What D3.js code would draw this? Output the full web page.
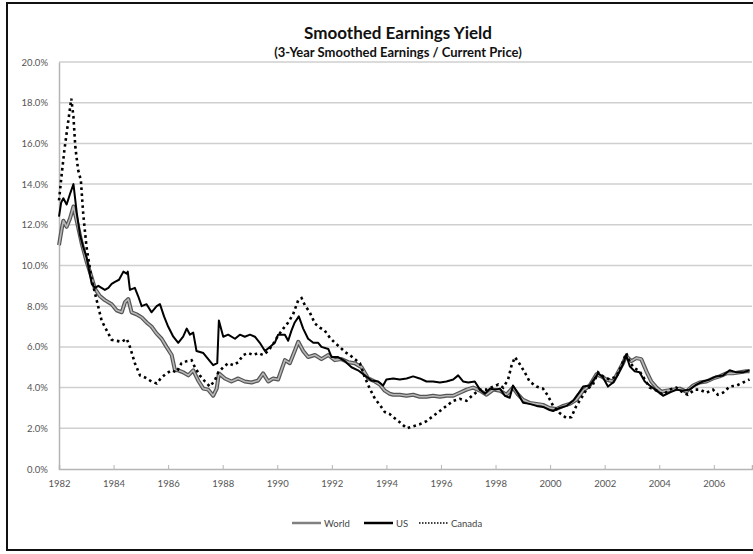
<!DOCTYPE html>
<html>
<head>
<meta charset="utf-8">
<script src="https://cdn.jsdelivr.net/npm/d3@7"></script>
<style>
  body { margin: 0; background: #fff; }
  svg { display: block; font-family: Lato, "Liberation Sans", sans-serif; }
</style>
</head>
<body>
<div id="chart"></div>
<script>
// Data: [year, yield in %]
const worldData = [
  [1982.00, 11.0], [1982.10, 11.8], [1982.16, 12.2], [1982.28, 11.9], [1982.40, 12.3], [1982.53, 12.9],
  [1982.65, 12.2], [1982.83, 11.1], [1983.01, 10.2], [1983.20, 9.4], [1983.32, 8.85], [1983.50, 8.5],
  [1983.68, 8.3], [1983.93, 8.1], [1984.11, 7.8], [1984.30, 7.7], [1984.42, 8.2], [1984.54, 8.35],
  [1984.66, 7.7], [1984.84, 7.6], [1985.03, 7.45], [1985.21, 7.2], [1985.39, 7.0], [1985.58, 6.65],
  [1985.76, 6.4], [1985.94, 6.0], [1986.13, 5.6], [1986.25, 4.85], [1986.37, 4.85], [1986.55, 4.75],
  [1986.74, 4.6], [1986.92, 4.85], [1987.10, 4.35], [1987.29, 3.95], [1987.47, 3.9], [1987.65, 3.6],
  [1987.78, 3.95], [1987.86, 4.7], [1988.08, 4.45], [1988.32, 4.3], [1988.57, 4.45], [1988.81, 4.3],
  [1989.06, 4.25], [1989.30, 4.35], [1989.48, 4.7], [1989.67, 4.3], [1989.85, 4.45], [1990.03, 4.4],
  [1990.28, 5.35], [1990.46, 5.2], [1990.64, 5.8], [1990.77, 6.25], [1990.95, 5.8], [1991.13, 5.5],
  [1991.38, 5.6], [1991.62, 5.4], [1991.87, 5.6], [1992.11, 5.35], [1992.35, 5.4], [1992.60, 5.25],
  [1992.84, 5.2], [1993.09, 5.0], [1993.33, 4.45], [1993.58, 4.3], [1993.76, 4.15], [1993.94, 3.85],
  [1994.12, 3.7], [1994.25, 3.65], [1994.49, 3.65], [1994.74, 3.6], [1994.98, 3.65], [1995.22, 3.55],
  [1995.47, 3.55], [1995.71, 3.6], [1995.96, 3.55], [1996.20, 3.6], [1996.45, 3.6], [1996.69, 3.75],
  [1996.94, 3.9], [1997.18, 4.0], [1997.43, 3.85], [1997.67, 3.65], [1997.92, 3.9], [1998.16, 3.85],
  [1998.40, 3.65], [1998.64, 4.0], [1998.83, 3.65], [1999.01, 3.4], [1999.25, 3.25], [1999.50, 3.2],
  [1999.74, 3.15], [1999.98, 3.0], [2000.23, 2.95], [2000.48, 3.1], [2000.72, 3.2], [2000.96, 3.4],
  [2001.21, 3.85], [2001.45, 4.1], [2001.70, 4.65], [2001.88, 4.55], [2002.06, 4.4], [2002.31, 4.3],
  [2002.49, 4.75], [2002.67, 5.2], [2002.79, 5.55], [2002.98, 5.3], [2003.16, 5.45], [2003.34, 5.4],
  [2003.53, 4.8], [2003.71, 4.3], [2003.90, 4.0], [2004.08, 3.8], [2004.26, 3.85], [2004.51, 3.9],
  [2004.75, 3.95], [2004.99, 3.8], [2005.24, 4.1], [2005.48, 4.25], [2005.73, 4.3], [2005.97, 4.45],
  [2006.21, 4.55], [2006.46, 4.7], [2006.70, 4.7], [2006.95, 4.75], [2007.19, 4.8], [2007.31, 4.8]
];

const usData = [
  [1982.00, 12.4], [1982.08, 13.1], [1982.16, 13.3], [1982.28, 13.0], [1982.40, 13.5], [1982.53, 14.0],
  [1982.65, 12.6], [1982.77, 11.5], [1982.89, 10.9], [1983.01, 10.4], [1983.20, 9.1], [1983.32, 8.9],
  [1983.44, 9.0], [1983.56, 8.9], [1983.68, 8.8], [1983.81, 8.9], [1983.93, 9.1], [1984.05, 9.2],
  [1984.20, 9.3], [1984.36, 9.7], [1984.48, 9.6], [1984.52, 9.7], [1984.60, 8.8], [1984.78, 8.9],
  [1984.90, 8.5], [1985.03, 8.0], [1985.21, 8.1], [1985.39, 7.7], [1985.58, 8.0], [1985.70, 8.1],
  [1985.85, 7.5], [1986.00, 7.0], [1986.19, 6.5], [1986.37, 6.2], [1986.55, 6.5], [1986.68, 6.9],
  [1986.80, 6.6], [1986.92, 6.7], [1987.04, 5.8], [1987.29, 5.7], [1987.47, 5.4], [1987.65, 5.1],
  [1987.80, 5.2], [1987.86, 7.3], [1988.02, 6.5], [1988.20, 6.6], [1988.45, 6.4], [1988.63, 6.6],
  [1988.81, 6.5], [1989.00, 6.6], [1989.18, 6.5], [1989.36, 6.2], [1989.55, 5.8], [1989.73, 6.0],
  [1989.91, 6.2], [1990.03, 6.6], [1990.28, 6.6], [1990.40, 6.3], [1990.52, 6.8], [1990.64, 7.2],
  [1990.79, 7.5], [1990.95, 6.9], [1991.13, 6.4], [1991.32, 6.2], [1991.50, 6.2], [1991.62, 6.0],
  [1991.87, 5.9], [1991.99, 5.5], [1992.23, 5.5], [1992.48, 5.3], [1992.72, 5.0], [1992.96, 4.85],
  [1993.21, 4.6], [1993.45, 4.35], [1993.70, 4.3], [1993.88, 4.1], [1994.00, 4.4], [1994.25, 4.45],
  [1994.49, 4.4], [1994.74, 4.45], [1994.98, 4.55], [1995.22, 4.45], [1995.47, 4.3], [1995.71, 4.3],
  [1995.96, 4.25], [1996.20, 4.3], [1996.45, 4.4], [1996.63, 4.6], [1996.81, 4.3], [1997.00, 4.25],
  [1997.24, 4.3], [1997.43, 3.9], [1997.61, 3.7], [1997.79, 3.95], [1997.98, 3.9], [1998.16, 3.95],
  [1998.34, 3.6], [1998.52, 3.5], [1998.64, 4.1], [1998.83, 3.7], [1999.01, 3.25], [1999.25, 3.2],
  [1999.50, 3.1], [1999.74, 3.05], [1999.98, 2.9], [2000.11, 2.85], [2000.35, 3.0], [2000.60, 3.1],
  [2000.84, 3.35], [2001.03, 3.7], [2001.21, 4.05], [2001.45, 4.1], [2001.76, 4.7], [2001.94, 4.5],
  [2002.12, 4.05], [2002.31, 4.25], [2002.49, 4.65], [2002.67, 5.15], [2002.79, 5.6], [2002.92, 5.05],
  [2003.10, 4.8], [2003.28, 4.75], [2003.47, 4.3], [2003.65, 4.1], [2003.90, 3.85], [2004.14, 3.6],
  [2004.38, 3.75], [2004.63, 3.9], [2004.87, 3.85], [2005.11, 3.9], [2005.36, 4.15], [2005.60, 4.3],
  [2005.85, 4.4], [2006.09, 4.55], [2006.34, 4.6], [2006.58, 4.85], [2006.83, 4.75], [2007.07, 4.75],
  [2007.31, 4.85]
];

const canadaData = [
  [1982.00, 13.2], [1982.10, 14.5], [1982.20, 15.7], [1982.33, 17.0], [1982.45, 18.2], [1982.53, 17.3],
  [1982.60, 15.8], [1982.70, 14.7], [1982.80, 14.2], [1982.89, 12.5], [1983.01, 10.9], [1983.20, 9.3],
  [1983.38, 8.3], [1983.56, 7.3], [1983.81, 6.65], [1983.93, 6.35], [1984.11, 6.3], [1984.30, 6.25],
  [1984.48, 6.4], [1984.60, 6.0], [1984.78, 5.2], [1984.97, 4.6], [1985.15, 4.5], [1985.39, 4.3],
  [1985.58, 4.2], [1985.76, 4.5], [1985.94, 4.7], [1986.13, 4.85], [1986.31, 4.75], [1986.49, 5.2],
  [1986.68, 5.3], [1986.86, 5.35], [1986.98, 5.0], [1987.16, 4.6], [1987.35, 4.3], [1987.53, 4.05],
  [1987.71, 4.35], [1987.84, 4.75], [1988.02, 5.0], [1988.20, 5.2], [1988.39, 5.1], [1988.57, 5.25],
  [1988.75, 5.6], [1988.94, 5.7], [1989.12, 5.6], [1989.30, 5.7], [1989.48, 5.6], [1989.67, 5.8],
  [1989.85, 6.15], [1990.03, 6.55], [1990.22, 6.9], [1990.40, 7.2], [1990.58, 7.6], [1990.77, 8.3],
  [1990.89, 8.4], [1991.01, 8.05], [1991.19, 7.7], [1991.38, 7.15], [1991.56, 6.95], [1991.74, 6.8],
  [1991.93, 6.45], [1992.11, 6.2], [1992.29, 6.0], [1992.48, 5.75], [1992.66, 5.6], [1992.84, 5.4],
  [1993.03, 5.2], [1993.21, 4.5], [1993.39, 3.95], [1993.58, 3.45], [1993.76, 3.15], [1993.94, 2.8],
  [1994.12, 2.7], [1994.25, 2.55], [1994.49, 2.3], [1994.74, 2.0], [1994.98, 2.1], [1995.22, 2.2],
  [1995.47, 2.35], [1995.71, 2.6], [1995.96, 2.85], [1996.20, 3.1], [1996.45, 3.35], [1996.69, 3.45],
  [1996.94, 3.35], [1997.18, 3.65], [1997.43, 3.9], [1997.67, 3.9], [1997.92, 4.05], [1998.10, 4.15],
  [1998.28, 4.0], [1998.46, 4.4], [1998.58, 5.05], [1998.71, 5.5], [1998.89, 5.15], [1999.07, 4.75],
  [1999.25, 4.3], [1999.50, 4.05], [1999.74, 3.95], [1999.92, 3.6], [2000.11, 3.1], [2000.35, 2.75],
  [2000.60, 2.5], [2000.78, 2.55], [2000.96, 3.1], [2001.15, 3.5], [2001.33, 3.9], [2001.57, 4.15],
  [2001.76, 4.75], [2001.94, 4.55], [2002.18, 4.4], [2002.43, 4.55], [2002.61, 5.05], [2002.79, 5.7],
  [2002.94, 5.2], [2003.10, 4.95], [2003.28, 4.8], [2003.47, 4.4], [2003.65, 4.0], [2003.90, 3.85],
  [2004.14, 3.65], [2004.38, 3.9], [2004.63, 4.0], [2004.87, 3.75], [2005.05, 3.65], [2005.30, 3.9],
  [2005.48, 3.9], [2005.73, 3.75], [2005.97, 3.9], [2006.15, 3.65], [2006.34, 3.75], [2006.58, 4.05],
  [2006.83, 4.1], [2007.07, 4.25], [2007.31, 4.4]
];

// Tick values for the axes
const yearTicks = [1982, 1984, 1986, 1988, 1990, 1992, 1994, 1996, 1998, 2000, 2002, 2004, 2006];
const yieldTicks = [0, 2, 4, 6, 8, 10, 12, 14, 16, 18, 20];

const seriesNames = ["World", "US", "Canada"];

// Dimensions
const W = 753, H = 554;
const plot = { left: 59, right: 752, top: 62, bottom: 469 };

const svg = d3.select("#chart").append("svg")
    .attr("width", W)
    .attr("height", H);

// Outer frame
svg.append("rect")
    .attr("x", 7).attr("y", 3)
    .attr("width", W + 10).attr("height", 547)
    .attr("fill", "#fff")
    .attr("stroke", "#111")
    .attr("stroke-width", 2);

// Scales
const x = d3.scaleLinear()
    .domain([1982, 2007.4])
    .range([plot.left, plot.right]);

const y = d3.scaleLinear()
    .domain([0, 20])
    .range([plot.bottom, plot.top]);

// Gridlines
svg.append("g")
    .selectAll("line")
    .data(yieldTicks.filter(d => d > 0))
    .enter().append("line")
    .attr("x1", plot.left).attr("x2", plot.right)
    .attr("y1", d => y(d)).attr("y2", d => y(d))
    .attr("stroke", "#cfcfcf")
    .attr("stroke-width", 1.5);

// Y axis
const yAxis = svg.append("g")
    .attr("transform", `translate(${plot.left},0)`)
    .call(d3.axisLeft(y).tickValues(yieldTicks).tickSize(0).tickPadding(11)
        .tickFormat(d => d.toFixed(1) + "%"));
yAxis.select(".domain").attr("stroke", "#b5b5b5").attr("stroke-width", 1.5);
yAxis.selectAll("text")
    .attr("fill", "#555")
    .style("font-size", "9.5px")
    .style("font-family", "Lato, sans-serif");

// X axis
const xAxis = svg.append("g")
    .attr("transform", `translate(0,${plot.bottom})`)
    .call(d3.axisTop(x).tickValues(yearTicks).tickSize(4).tickFormat(d3.format("d")));
xAxis.select(".domain").attr("stroke", "#b5b5b5").attr("stroke-width", 1.5);
xAxis.selectAll(".tick line").attr("stroke", "#b5b5b5");
xAxis.selectAll("text")
    .attr("y", 18)
    .attr("dy", 0)
    .attr("fill", "#555")
    .style("font-size", "9.5px")
    .style("font-family", "Lato, sans-serif");

// Lines
const line = d3.line()
    .x(d => x(d[0]))
    .y(d => y(d[1]));

// World: gray line with darker edges
svg.append("path")
    .datum(worldData)
    .attr("d", line)
    .attr("fill", "none")
    .attr("stroke", "#555")
    .attr("stroke-width", 4)
    .attr("stroke-linejoin", "round");
svg.append("path")
    .datum(worldData)
    .attr("d", line)
    .attr("fill", "none")
    .attr("stroke", "#b8b8b8")
    .attr("stroke-width", 1.6)
    .attr("stroke-linejoin", "round");

// US
svg.append("path")
    .datum(usData)
    .attr("d", line)
    .attr("fill", "none")
    .attr("stroke", "#000")
    .attr("stroke-width", 2)
    .attr("stroke-linejoin", "round");

// Canada (dotted)
svg.append("path")
    .datum(canadaData)
    .attr("d", line)
    .attr("fill", "none")
    .attr("stroke", "#000")
    .attr("stroke-width", 2.6)
    .attr("stroke-dasharray", "2.6,3.4");

// Titles
svg.append("text")
    .attr("x", 398).attr("y", 39)
    .attr("text-anchor", "middle")
    .style("font-size", "17px")
    .style("font-weight", "bold")
    .attr("fill", "#111")
    .text("Smoothed Earnings Yield");

svg.append("text")
    .attr("x", 398).attr("y", 57)
    .attr("text-anchor", "middle")
    .style("font-size", "13px")
    .style("font-weight", "bold")
    .attr("fill", "#111")
    .text("(3-Year Smoothed Earnings / Current Price)");

// Legend
const legendItems = [
    { name: seriesNames[0], x: 292, stroke: "#808080", width: 2.5, dash: null },
    { name: seriesNames[1], x: 364, stroke: "#000", width: 2.5, dash: null },
    { name: seriesNames[2], x: 419, stroke: "#000", width: 1.5, dash: "1.5,1.5" }
];
const legend = svg.append("g");
legendItems.forEach(item => {
    legend.append("line")
        .attr("x1", item.x).attr("x2", item.x + 29)
        .attr("y1", 523).attr("y2", 523)
        .attr("stroke", item.stroke)
        .attr("stroke-width", item.width)
        .attr("stroke-dasharray", item.dash);
    legend.append("text")
        .attr("x", item.x + 32).attr("y", 526.5)
        .attr("fill", "#444")
        .style("font-size", "9.5px")
        .text(item.name);
});
</script>
</body>
</html>
